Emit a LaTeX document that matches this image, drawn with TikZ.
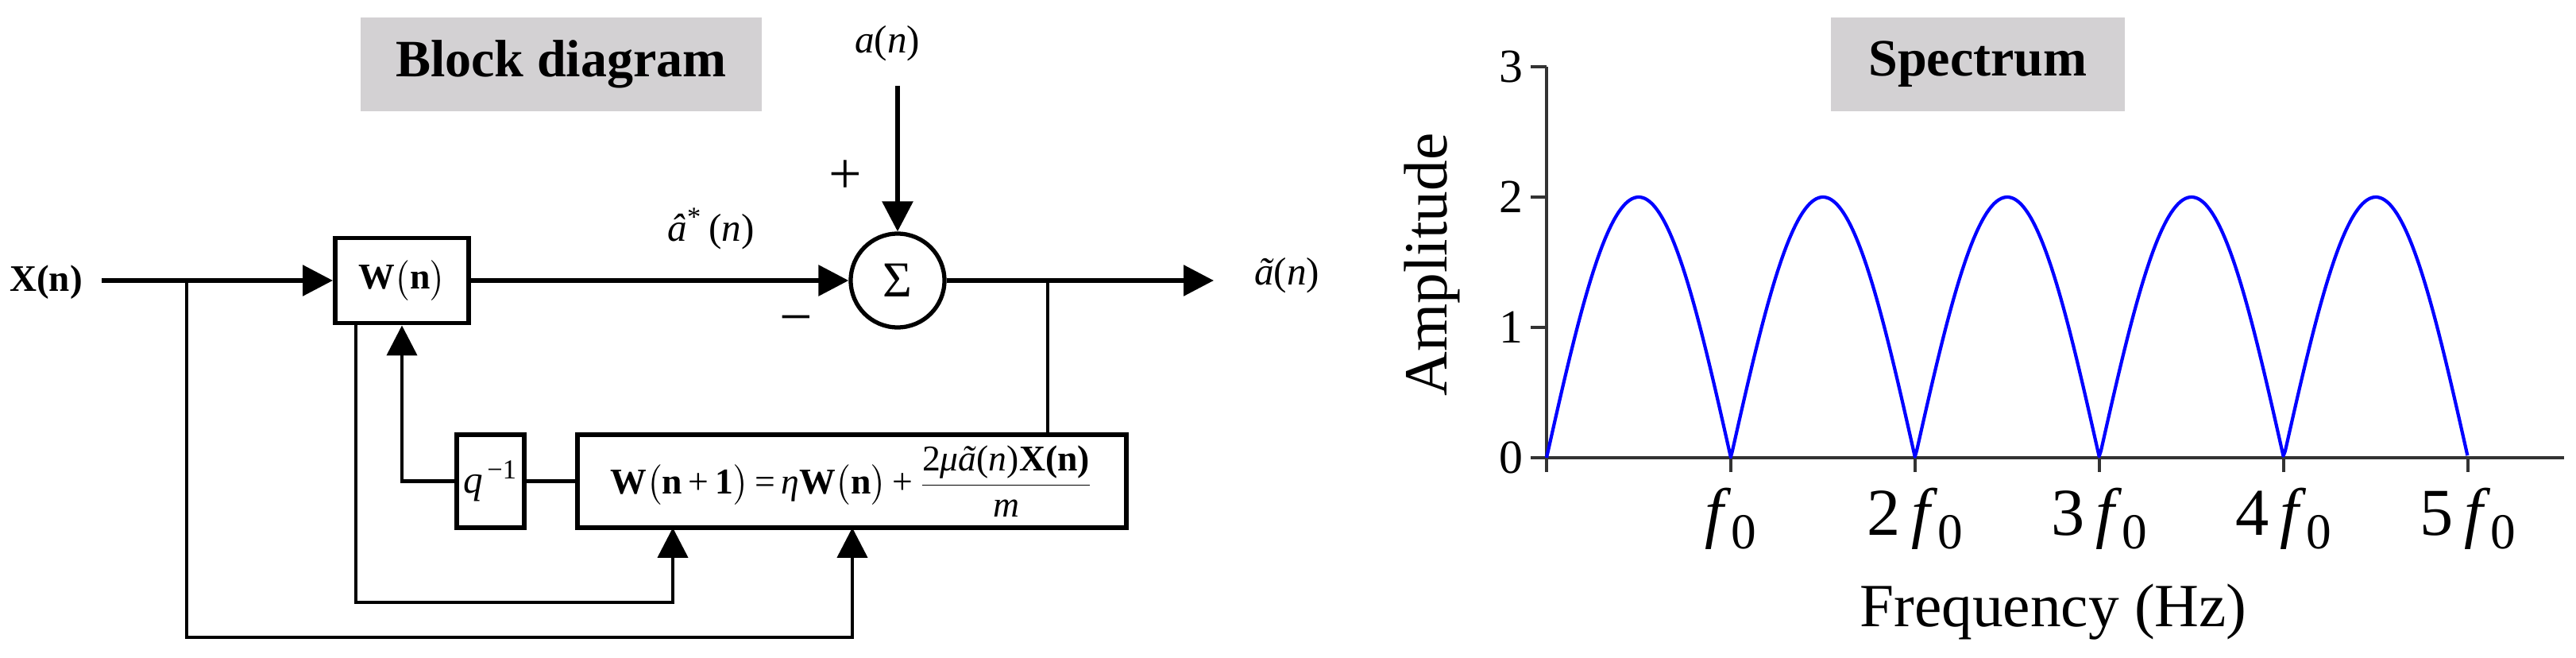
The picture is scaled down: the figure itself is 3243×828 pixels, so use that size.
\documentclass[tikz,border=0pt]{standalone}
\usepackage{fontspec}
\setmainfont{Liberation Serif}
\usepackage{amsmath}
\usetikzlibrary{arrows.meta,calc}
\newcommand{\fsz}[1]{\fontsize{#1}{#1}\selectfont}
\newcommand{\fnot}{\textit{f}\raisebox{-5pt}{\fsz{18}0}}
\definecolor{titlegray}{RGB}{211,209,211}
\definecolor{curveblue}{RGB}{0,0,255}
\begin{document}
\begin{tikzpicture}[x=0.1mm,y=-0.1mm,
  tri/.style={-{Triangle[length=10.8pt,width=10.8pt]}},
  mainline/.style={line width=1.7pt},
  fbline/.style={line width=1.3pt},
  thinline/.style={line width=0.9pt},
  blk/.style={draw,line width=1.7pt,inner sep=0pt,align=center},
  title/.style={fill=titlegray,inner sep=0pt,minimum height=11.8mm,font=\fsz{18.8}\bfseries},
  lbl/.style={inner sep=0pt,font=\fsz{14}},
  sign/.style={inner sep=0pt,font=\fsz{21}},
  axisline/.style={line width=0.9pt,draw=black!80},
  ytick/.style={inner sep=0pt,anchor=east,font=\fsz{17}},
  xtick/.style={inner sep=0pt,anchor=base,font=\fsz{24}},
  axlbl/.style={inner sep=0pt,font=\fsz{22}},
]
\useasboundingbox (0,0) rectangle (3243,828);

% ---------- Block diagram ----------
\node[title,minimum width=50.5mm] (t1) at (706.5,81) {Block diagram};

\node[lbl,font=\fsz{13.4}\bfseries] (xn) at (58,355) {X(n)};
\coordinate (in) at (128,353);
\coordinate (b1) at (235,353);

\node[blk,minimum width=16.8mm,minimum height=10.7mm] (W) at (506,353)
  {\fsz{13}\textbf{W}$\big($\textbf{n}$\big)$};

\node[draw,circle,line width=1.5pt,minimum size=11.8mm,inner sep=0pt] (sum) at (1130,353)
  {\fsz{18}Σ};

\node[blk,minimum width=8.5mm,minimum height=11.7mm] (q) at (617.5,605.5)
  {\fsz{14}\textit{q}\textsuperscript{\,−1}};

\node[blk,minimum width=69.1mm,minimum height=11.7mm] (upd) at (1072.5,605.5)
  {\fsz{13}\textbf{W}$\big($\textbf{n}\,+\,\textbf{1}$\big)$\,=\,\textit{η}\textbf{W}$\big($\textbf{n}$\big)$\,+\,$\dfrac{\text{2\textit{μã}(\textit{n})\textbf{X(n)}}}{\text{\textit{m}}}$};

\node[lbl] (an) at (1117,55) {\textit{a}(\textit{n})};
\coordinate (antop) at (1130,108);
\node[lbl] (ahat) at (895,288) {\textit{â}\textsuperscript{*}\,(\textit{n})};
\node[lbl] (atil) at (1620,347) {\textit{ã}(\textit{n})};
\coordinate (out) at (1528,353);
\coordinate (b2) at (1319,353);
\node[sign] (plus) at (1064,223) {+};
\node[sign] (minus) at (1002,410) {−};

\coordinate (w1) at (448,407);
\coordinate (u1) at (847,664);
\coordinate (u2) at (1073,664);
\coordinate (u3) at (1319,547);

\draw[mainline,tri] (in) -- (W.west);
\draw[mainline,tri] (W.east) -- (sum.west);
\draw[mainline,tri] (antop) -- (sum.north);
\draw[mainline,tri] (sum.east) -- (out);
\draw[thinline] (b2) -- (u3);
\draw[fbline,tri] (b1) -- (235,802) -| (u2);
\draw[fbline,tri] (w1) -- (448,758) -| (u1);
\draw[fbline,tri] (q.west) -| (W.south);
\draw[fbline] (upd.west) -- (q.east);

% ---------- Spectrum ----------
\node[title,minimum width=37mm] (t2) at (2490,81) {Spectrum};

\coordinate (o) at (1947,576);
\draw[axisline] (1947,84) -- (o);
\draw[axisline] (1927,576) -- (3228,576);
\foreach \v/\yy in {0/576,1/412,2/248,3/84}{
  \draw[axisline] (1927,\yy) -- (1947,\yy);
  \node[ytick] (y\v) at (1918,\yy) {\v};
}
\foreach \k/\t in {0/,1/\fnot,2/2\,\fnot,3/3\,\fnot,4/4\,\fnot,5/5\,\fnot}{
  \draw[axisline] ({1947+232*\k},576) -- ({1947+232*\k},594);
  \node[xtick] (x\k) at ({1947+232*\k},673) {\t};
}
\draw[curveblue,line width=1.2pt,line join=round] plot[domain=0:5,samples=501]
  ({1947+232*\x},{576-328*abs(sin(180*\x))});

\node[axlbl,rotate=90] (ylab) at (1803,333) {Amplitude};
\node[axlbl] (xlab) at (2585,770) {Frequency (Hz)};
\end{tikzpicture}
\end{document}
